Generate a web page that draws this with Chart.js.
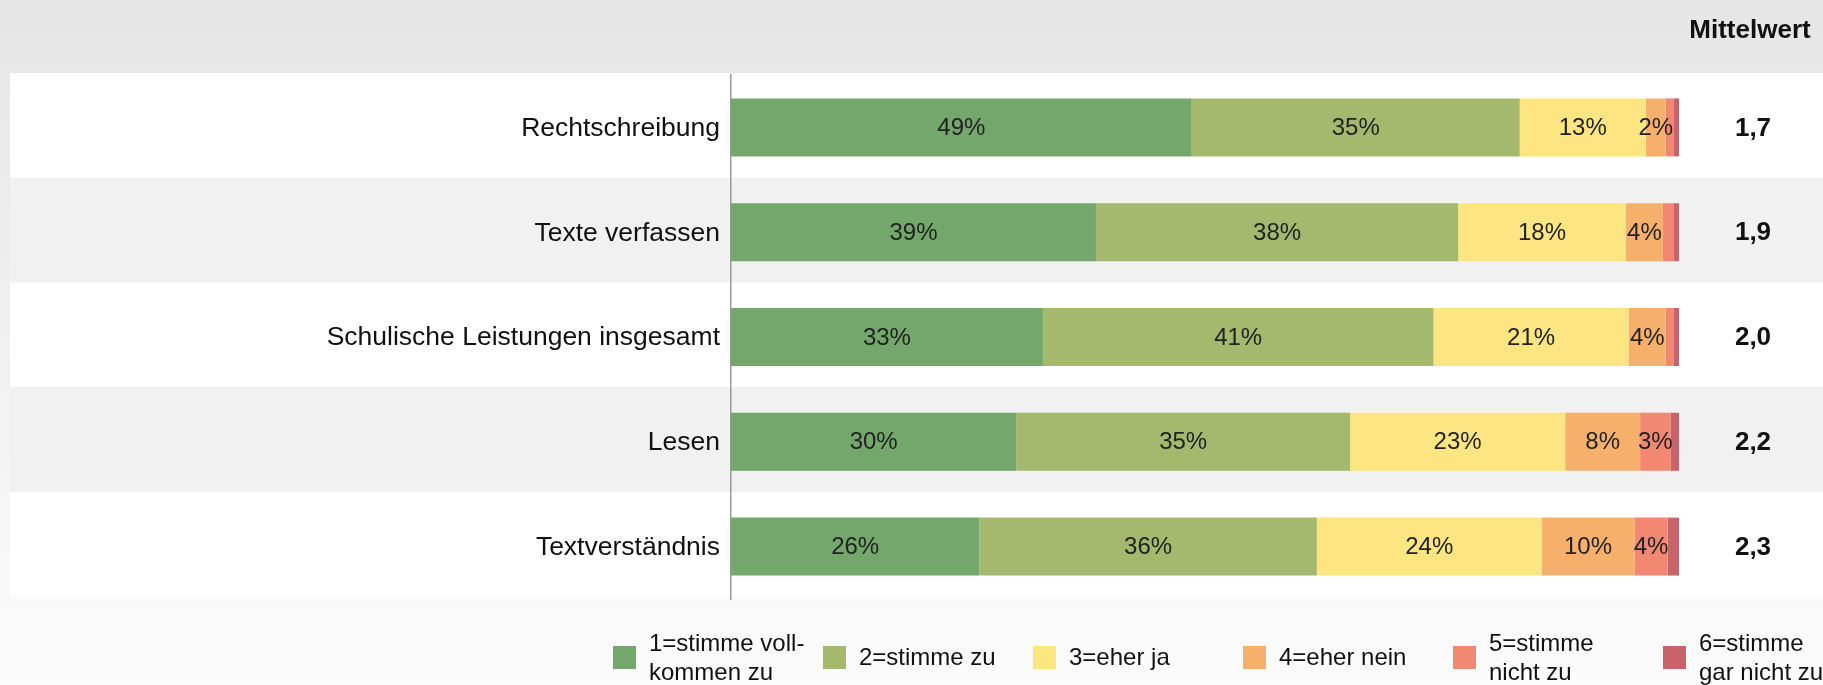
<!DOCTYPE html>
<html lang="de">
<head>
  <meta charset="UTF-8" />
  <title>Mittelwert Zustimmung</title>
  <script src="https://cdn.jsdelivr.net/npm/chart.js"></script>
  <style>
    html, body { margin: 0; padding: 0; }
    body {
      width: 1823px; height: 685px; overflow: hidden;
      background: linear-gradient(to bottom, #e6e6e6 0px, #e8e8e8 75px, #f9f9f9 600px, #fcfcfc 685px);
      font-family: "Liberation Sans", Arial, sans-serif;
    }
    #wrap { position: absolute; left: 0; top: 0; width: 1823px; height: 685px; }
  </style>
</head>
<body>
  <div id="wrap"><canvas id="chart"></canvas></div>

  <script>
    // data
    const categories = ['Rechtschreibung', 'Texte verfassen', 'Schulische Leistungen insgesamt', 'Lesen', 'Textverständnis'];
    const stimmeVoll   = [48.6, 38.5, 32.9, 30.1, 26.2];
    const stimmeZu     = [34.6, 38.2, 41.2, 35.2, 35.6];
    const eherJa       = [13.3, 17.7, 20.6, 22.7, 23.7];
    const eherNein     = [2.1, 3.9, 3.9, 7.9, 9.8];
    const nichtZu      = [0.8, 1.1, 0.8, 3.2, 3.5];
    const garNichtZu   = [0.6, 0.6, 0.6, 0.9, 1.2];
    const meanValues   = [1.7, 1.9, 2.0, 2.2, 2.3];

    const seriesLabels = [
      ['1=stimme voll-', 'kommen zu'],
      ['2=stimme zu'],
      ['3=eher ja'],
      ['4=eher nein'],
      ['5=stimme', 'nicht zu'],
      ['6=stimme', 'gar nicht zu']
    ];
    const seriesColors = ['#73a76b', '#a4b96e', '#fde581', '#f7b06c', '#f38872', '#c9636a'];
    const seriesData = [stimmeVoll, stimmeZu, eherJa, eherNein, nichtZu, garNichtZu];

    const FONT = '"Liberation Sans", Arial, sans-serif';

    // alternating row bands behind the bars
    const rowBands = {
      id: 'rowBands',
      beforeDraw(chart) {
        const { ctx, scales: { y } } = chart;
        const h = (y.bottom - y.top) / categories.length;
        ctx.save();
        categories.forEach((c, i) => {
          const cy = y.getPixelForValue(i);
          ctx.fillStyle = i % 2 === 0 ? '#ffffff' : '#f1f1f1';
          ctx.fillRect(10, cy - h / 2 - 2, chart.width - 10, h);
        });
        ctx.restore();
      }
    };

    // percent labels, mean column and legend
    const extras = {
      id: 'extras',
      afterDatasetsDraw(chart) {
        const { ctx, scales: { x, y } } = chart;
        ctx.save();
        ctx.textBaseline = 'middle';
        ctx.textAlign = 'center';

        ctx.font = '24px ' + FONT;
        ctx.fillStyle = '#222';
        chart.data.datasets.forEach((ds, di) => {
          const meta = chart.getDatasetMeta(di);
          meta.data.forEach((bar, i) => {
            const v = ds.data[i];
            if (v < 1.5) return;
            const left = Math.min(bar.x, bar.base);
            const right = Math.max(bar.x, bar.base);
            ctx.fillText(Math.round(v) + '%', (left + right) / 2, bar.y + 1);
          });
        });

        ctx.font = 'bold 26px ' + FONT;
        ctx.fillStyle = '#111';
        ctx.fillText('Mittelwert', 1750, 31);
        meanValues.forEach((m, i) => {
          ctx.fillText(m.toFixed(1).replace('.', ','), 1753, y.getPixelForValue(i) + 1);
        });

        // legend
        const lx0 = 613, step = 210, sqTop = 646, sq = 23, lineH = 29;
        ctx.textAlign = 'left';
        ctx.font = '24px ' + FONT;
        seriesLabels.forEach((lines, i) => {
          const lx = lx0 + i * step;
          ctx.fillStyle = seriesColors[i];
          ctx.fillRect(lx, sqTop, sq, sq);
          ctx.fillStyle = '#111';
          const cy = sqTop + sq / 2 + 1;
          lines.forEach((t, li) => {
            const ty = cy + (li - (lines.length - 1) / 2) * lineH;
            ctx.fillText(t, lx + 36, ty);
          });
        });
        ctx.restore();
      }
    };

    new Chart(document.getElementById('chart'), {
      type: 'bar',
      data: {
        labels: categories,
        datasets: seriesData.map((d, i) => ({
          label: seriesLabels[i].join(' '),
          data: d,
          backgroundColor: seriesColors[i],
          borderWidth: 0,
          categoryPercentage: 1,
          barPercentage: 0.553
        }))
      },
      options: {
        indexAxis: 'y',
        responsive: true,
        maintainAspectRatio: false,
        animation: false,
        layout: { padding: { left: 0, right: 144, top: 75, bottom: 86 } },
        plugins: {
          legend: { display: false },
          tooltip: { enabled: false }
        },
        scales: {
          x: { stacked: true, min: 0, max: 100, display: false },
          y: {
            stacked: true,
            afterFit(scale) { scale.width = 731; },
            grid: { display: false, drawTicks: false },
            border: { display: true, color: '#9a9a9a', width: 1.5 },
            ticks: {
              padding: 11,
              labelOffset: 1,
              color: '#111',
              font: { family: FONT, size: 26.5 }
            }
          }
        }
      },
      plugins: [rowBands, extras]
    });
  </script>
</body>
</html>
